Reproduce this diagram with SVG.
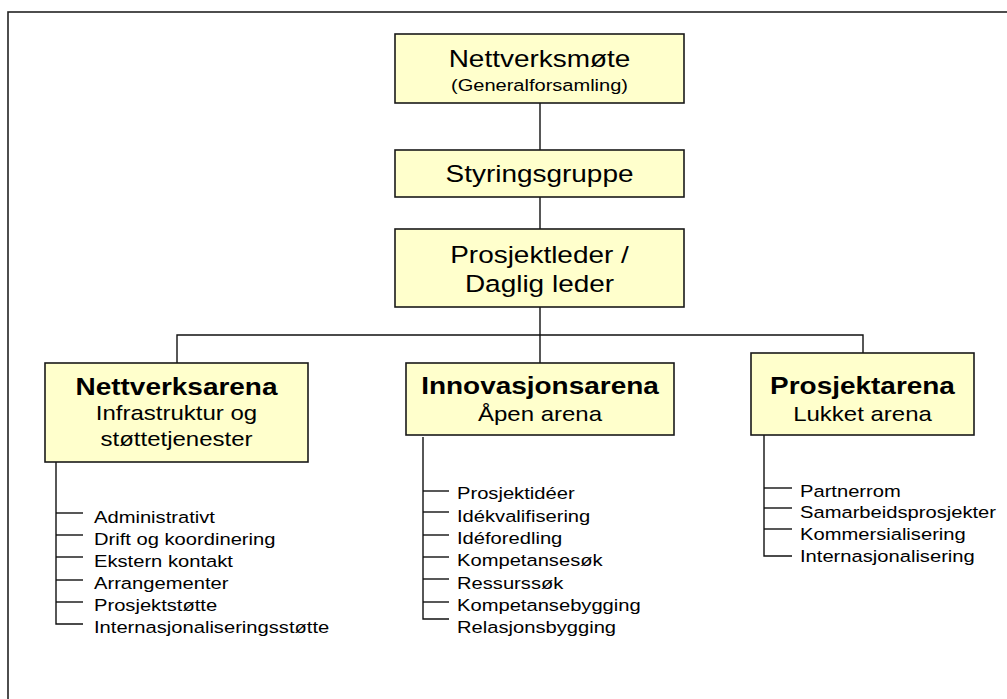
<svg xmlns="http://www.w3.org/2000/svg" width="1007" height="699" viewBox="0 0 1007 699">
  <style>
    .box { fill: #FFFFCC; stroke: #1a1a1a; stroke-width: 1.6; }
    .ln { stroke: #111; stroke-width: 1.4; fill: none; }
    .t { font-family: "Liberation Sans", Arial, sans-serif; fill: #000; }
    .c { text-anchor: middle; }
    .big { font-size: 23.3px; }
    .sub { font-size: 16.7px; }
    .mid { font-size: 20px; }
    .b { font-weight: bold; }
    .li { font-size: 16.8px; }
  </style>

  <!-- frame -->
  <rect x="8" y="12" width="1010" height="700" fill="#fff" stroke="#222" stroke-width="1.6"/>

  <!-- connectors -->
  <g id="connectors" class="ln">
    <line x1="540" y1="103" x2="540" y2="150"/>
    <line x1="540" y1="197" x2="540" y2="229"/>
    <line x1="540" y1="307" x2="540" y2="363"/>
    <polyline points="177,363 177,335 863,335 863,353"/>
    <!-- Nettverksarena list -->
    <polyline points="56,462 56,624 83,624"/>
    <line x1="56" y1="513" x2="83" y2="513"/>
    <line x1="56" y1="535" x2="83" y2="535"/>
    <line x1="56" y1="557" x2="83" y2="557"/>
    <line x1="56" y1="580" x2="83" y2="580"/>
    <line x1="56" y1="602" x2="83" y2="602"/>
    <!-- Innovasjonsarena list -->
    <polyline points="423,437 423,619 449,619"/>
    <line x1="423" y1="491" x2="449" y2="491"/>
    <line x1="423" y1="512" x2="449" y2="512"/>
    <line x1="423" y1="535" x2="449" y2="535"/>
    <line x1="423" y1="557" x2="449" y2="557"/>
    <line x1="423" y1="579" x2="449" y2="579"/>
    <line x1="423" y1="602" x2="449" y2="602"/>
    <!-- Prosjektarena list -->
    <polyline points="764,435 764,556 792,556"/>
    <line x1="764" y1="488" x2="792" y2="488"/>
    <line x1="764" y1="508" x2="792" y2="508"/>
    <line x1="764" y1="529" x2="792" y2="529"/>
  </g>

  <g id="nettverksmote">
    <rect class="box" x="395" y="34" width="289" height="69"/>
    <text class="t c big" transform="translate(539.5,67) scale(1.2,1)">Nettverksmøte</text>
    <text class="t c sub" transform="translate(539.5,91) scale(1.2,1)">(Generalforsamling)</text>
  </g>

  <g id="styringsgruppe">
    <rect class="box" x="395" y="150" width="289" height="47"/>
    <text class="t c big" transform="translate(539.5,182) scale(1.2,1)">Styringsgruppe</text>
  </g>

  <g id="prosjektleder">
    <rect class="box" x="395" y="229" width="289" height="78"/>
    <text class="t c big" transform="translate(539.5,263) scale(1.2,1)">Prosjektleder /</text>
    <text class="t c big" transform="translate(539.5,292) scale(1.2,1)">Daglig leder</text>
  </g>

  <g id="nettverksarena">
    <rect class="box" x="45" y="363" width="263" height="99"/>
    <text class="t c big b" transform="translate(176.5,395) scale(1.2,1)">Nettverksarena</text>
    <text class="t c mid" transform="translate(176.5,420) scale(1.2,1)">Infrastruktur og</text>
    <text class="t c mid" transform="translate(176.5,446) scale(1.2,1)">støttetjenester</text>
  </g>

  <g id="nettverksarena-items">
    <text class="t li" transform="translate(94,523) scale(1.2,1)">Administrativt</text>
    <text class="t li" transform="translate(94,545) scale(1.2,1)">Drift og koordinering</text>
    <text class="t li" transform="translate(94,567) scale(1.2,1)">Ekstern kontakt</text>
    <text class="t li" transform="translate(94,589) scale(1.2,1)">Arrangementer</text>
    <text class="t li" transform="translate(94,611) scale(1.2,1)">Prosjektstøtte</text>
    <text class="t li" transform="translate(94,633) scale(1.2,1)">Internasjonaliseringsstøtte</text>
  </g>

  <g id="innovasjonsarena">
    <rect class="box" x="406" y="363" width="268" height="72"/>
    <text class="t c big b" transform="translate(540,394) scale(1.2,1)">Innovasjonsarena</text>
    <text class="t c mid" transform="translate(540,421) scale(1.2,1)">Åpen arena</text>
  </g>

  <g id="innovasjonsarena-items">
    <text class="t li" transform="translate(457,499) scale(1.2,1)">Prosjektidéer</text>
    <text class="t li" transform="translate(457,521.5) scale(1.2,1)">Idékvalifisering</text>
    <text class="t li" transform="translate(457,544) scale(1.2,1)">Idéforedling</text>
    <text class="t li" transform="translate(457,566) scale(1.2,1)">Kompetansesøk</text>
    <text class="t li" transform="translate(457,588.5) scale(1.2,1)">Ressurssøk</text>
    <text class="t li" transform="translate(457,610.5) scale(1.2,1)">Kompetansebygging</text>
    <text class="t li" transform="translate(457,633) scale(1.2,1)">Relasjonsbygging</text>
  </g>

  <g id="prosjektarena">
    <rect class="box" x="751" y="353" width="223" height="82"/>
    <text class="t c big b" transform="translate(862.5,394) scale(1.2,1)">Prosjektarena</text>
    <text class="t c mid" transform="translate(862.5,421) scale(1.2,1)">Lukket arena</text>
  </g>

  <g id="prosjektarena-items">
    <text class="t li" transform="translate(800,496.5) scale(1.2,1)">Partnerrom</text>
    <text class="t li" transform="translate(800,518) scale(1.2,1)">Samarbeidsprosjekter</text>
    <text class="t li" transform="translate(800,540) scale(1.2,1)">Kommersialisering</text>
    <text class="t li" transform="translate(800,561.5) scale(1.2,1)">Internasjonalisering</text>
  </g>
</svg>
